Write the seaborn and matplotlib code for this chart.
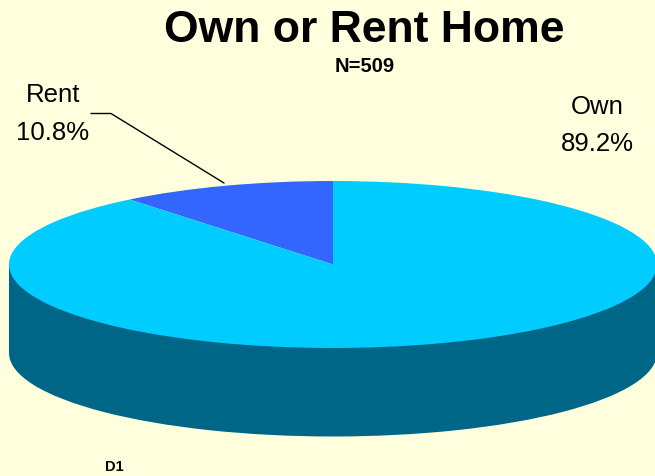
import matplotlib
matplotlib.use('Agg')
import matplotlib.pyplot as plt
import seaborn as sns

# Data
labels = ['Rent', 'Own']
shares = [10.8, 89.2]
top_colors = ['#3366FF', '#00CCFF']
side_color = '#006688'
bg_color = '#FFFFDD'

sns.set_theme(style='white', rc={'figure.facecolor': bg_color, 'axes.facecolor': bg_color})
plt.rcParams['font.family'] = ['Liberation Sans', 'DejaVu Sans']

fig = plt.figure(figsize=(6.55, 4.77), dpi=100)
ax = fig.add_axes([0, 0, 1, 1])

# pie is a flattened circle: one data unit is the ellipse radius on each axis
cx, cy, rx, ry = 333, 265.5, 324, 83.5
depth = 88.5 / ry

def to_x(px):
    return (px - cx) / rx

def to_y(py):
    return (cy - py) / ry

# side wall first: same pie shifted down, plus a band to join the two
ax.pie([100], colors=[side_color], radius=1, center=(0, -depth), frame=True,
       wedgeprops={'linewidth': 0})
ax.fill_between([-1, 1], [0, 0], [-depth, -depth], color=side_color, lw=0)
ax.pie(shares, colors=sns.color_palette(top_colors), startangle=90, radius=1,
       center=(0, 0), frame=True, wedgeprops={'linewidth': 0})

ax.set_aspect('auto')
ax.set_xlim(to_x(0), to_x(655))
ax.set_ylim(to_y(477), to_y(0))
ax.axis('off')

# leader line for Rent
ax.plot([to_x(91), to_x(111), to_x(224)], [to_y(114.5), to_y(114.5), to_y(184)],
        color='black', lw=1)

ax.text(to_x(364.5), to_y(30.5), 'Own or Rent Home', fontsize=32, fontweight='bold',
        ha='center', va='center', color='black')
ax.text(to_x(365), to_y(66.5), 'N=509', fontsize=14.5, fontweight='bold',
        ha='center', va='center', color='black')
ax.text(to_x(53), to_y(114), f'{labels[0]}\n{shares[0]}%', fontsize=18.5,
        ha='center', va='center', color='black', linespacing=1.7)
ax.text(to_x(597), to_y(125.5), f'{labels[1]}\n{shares[1]}%', fontsize=18.5,
        ha='center', va='center', color='black', linespacing=1.7)
ax.text(to_x(114.5), to_y(467), 'D1', fontsize=10.5, fontweight='bold',
        ha='center', va='center', color='black')

fig.savefig('out.png', dpi=100, facecolor=bg_color)
